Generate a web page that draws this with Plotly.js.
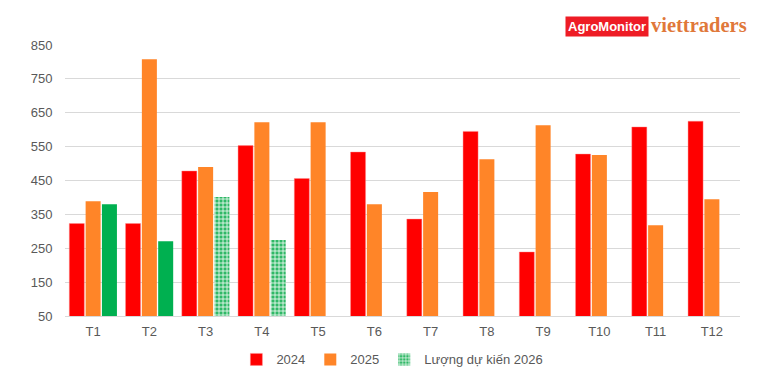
<!DOCTYPE html>
<html>
<head>
<meta charset="utf-8">
<script src="https://cdn.plot.ly/plotly-3.0.1.min.js"></script>
<style>html,body{margin:0;padding:0;background:#fff;}#chart{width:783px;height:390px;}</style>
</head>
<body>
<div id="chart"></div>
<script>
const months = ['T1','T2','T3','T4','T5','T6','T7','T8','T9','T10','T11','T12'];
const v2024 = [323,323,478,553,456,534,336,595,239,528,608,625];
const v2025 = [389,808,490,622,622,380,416,513,613,525,318,395];
const v2026Actual = [380,271,null,null,null,null,null,null,null,null,null,null];
const v2026Forecast = [null,null,401,274,null,null,null,null,null,null,null,null];
const seriesNames = ['2024','2025','Lượng dự kiến 2026'];

const font = {family:'"Liberation Sans", Arial, sans-serif', size:13, color:'#595959'};

const traces = [
  {type:'bar', name:seriesNames[0], x:months, y:v2024, offsetgroup:'a',
   marker:{color:'#ff0000', line:{color:'rgba(255,140,140,0.7)', width:0.6}}, hoverinfo:'skip'},
  {type:'bar', name:seriesNames[1], x:months, y:v2025, offsetgroup:'b',
   marker:{color:'#ff8528', line:{width:0}}, hoverinfo:'skip'},
  {type:'bar', name:seriesNames[2], x:months, y:v2026Actual, offsetgroup:'c', showlegend:false,
   marker:{color:'#00b050', line:{width:0}}, hoverinfo:'skip'},
  {type:'bar', name:seriesNames[2], x:months, y:v2026Forecast, offsetgroup:'c',
   marker:{color:'#3cc073', line:{width:0},
     pattern:{shape:'+', fgcolor:'#ffffff', bgcolor:'#2fb866', size:4, solidity:0.35, fillmode:'replace'}},
   hoverinfo:'skip'}
];

const layout = {
  width:783, height:390,
  margin:{l:65, r:43, t:45, b:74},
  paper_bgcolor:'#ffffff', plot_bgcolor:'#ffffff',
  font:font,
  barmode:'group', bargap:0.13, bargroupgap:0.08,
  showlegend:true,
  legend:{orientation:'h', x:0.485, xanchor:'center', y:-0.105, yanchor:'top',
    font:font, traceorder:'normal', itemwidth:30, tracegroupgap:0},
  xaxis:{type:'category', showgrid:false, zeroline:false, showline:true,
    linecolor:'#d9d9d9', linewidth:1, ticks:'outside', ticklen:3, tickcolor:'rgba(0,0,0,0)',
    tickfont:font, fixedrange:true},
  yaxis:{range:[50,850], tick0:50, dtick:100, showgrid:true, gridcolor:'#d9d9d9',
    gridwidth:1, zeroline:false, showline:false, ticks:'outside', ticklen:9,
    tickcolor:'rgba(0,0,0,0)', tickfont:font, fixedrange:true},
  annotations:[
    {xref:'paper', yref:'paper', x:0.865, y:1.03, xanchor:'right', yanchor:'bottom',
     text:'<b>AgroMonitor</b>', showarrow:false, bgcolor:'#ee1c25',
     font:{family:'"Liberation Sans", Arial, sans-serif', size:13, color:'#ffffff'},
     borderpad:2},
    {xref:'paper', yref:'paper', x:1.013, y:1.025, xanchor:'right', yanchor:'bottom',
     text:'<b>viettraders</b>', showarrow:false,
     font:{family:'"Liberation Serif", serif', size:20.5, color:'#e0783a'}}
  ]
};

Plotly.newPlot('chart', traces, layout, {staticPlot:true, displayModeBar:false});
</script>
</body>
</html>
